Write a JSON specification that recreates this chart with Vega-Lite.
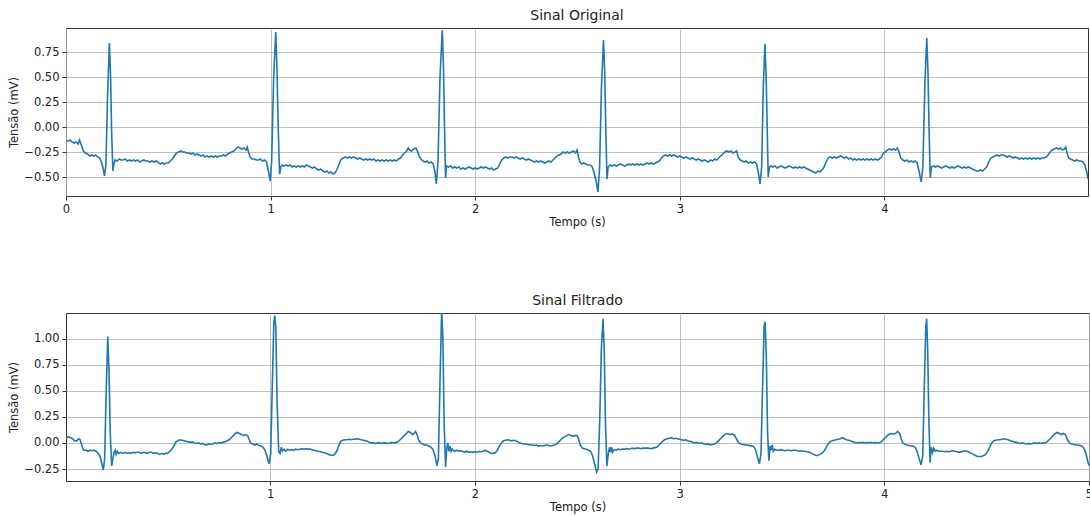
{
  "$schema": "https://vega.github.io/schema/vega-lite/v6.json",
  "background": "white",
  "padding": {"left": 8, "top": 8, "right": 2, "bottom": 0},
  "config": {
    "font": "DejaVu Sans",
    "view": {"stroke": "#333333", "strokeWidth": 1},
    "concat": {"spacing": 64},
    "axis": {
      "grid": true,
      "gridColor": "#b0b0b0",
      "gridWidth": 0.8,
      "domain": false,
      "tickColor": "#333333",
      "tickSize": 4,
      "labelFontSize": 11.5,
      "labelColor": "#222222",
      "labelPadding": 3,
      "titleFontSize": 11.5,
      "titleFontWeight": "normal",
      "titleColor": "#222222",
      "titlePadding": 2
    },
    "title": {"fontSize": 14, "fontWeight": "normal", "color": "#222222", "offset": 5}
  },
  "datasets": {
    "orig": [
      {"t":0.000,"v":-0.14},{"t":0.010,"v":-0.14},{"t":0.020,"v":-0.13},{"t":0.030,"v":-0.15},{"t":0.040,"v":-0.16},{"t":0.050,"v":-0.15},{"t":0.060,"v":-0.17},{"t":0.066,"v":-0.13},{"t":0.075,"v":-0.18},{"t":0.085,"v":-0.24},{"t":0.095,"v":-0.26},{"t":0.105,"v":-0.27},{"t":0.115,"v":-0.29},{"t":0.125,"v":-0.28},{"t":0.135,"v":-0.29},{"t":0.145,"v":-0.28},{"t":0.155,"v":-0.30},{"t":0.165,"v":-0.31},{"t":0.175,"v":-0.36},{"t":0.182,"v":-0.42},{"t":0.188,"v":-0.49},{"t":0.195,"v":-0.38},{"t":0.203,"v":0.30},{"t":0.212,"v":0.84},{"t":0.218,"v":0.50},{"t":0.223,"v":-0.05},{"t":0.229,"v":-0.44},{"t":0.234,"v":-0.37},{"t":0.240,"v":-0.33},{"t":0.250,"v":-0.34},{"t":0.260,"v":-0.32},{"t":0.270,"v":-0.33},{"t":0.280,"v":-0.33},{"t":0.290,"v":-0.32},{"t":0.300,"v":-0.34},{"t":0.310,"v":-0.33},{"t":0.320,"v":-0.34},{"t":0.330,"v":-0.33},{"t":0.340,"v":-0.34},{"t":0.350,"v":-0.33},{"t":0.360,"v":-0.35},{"t":0.370,"v":-0.34},{"t":0.380,"v":-0.33},{"t":0.390,"v":-0.34},{"t":0.400,"v":-0.34},{"t":0.410,"v":-0.35},{"t":0.420,"v":-0.34},{"t":0.430,"v":-0.35},{"t":0.440,"v":-0.34},{"t":0.450,"v":-0.35},{"t":0.460,"v":-0.37},{"t":0.470,"v":-0.36},{"t":0.480,"v":-0.37},{"t":0.490,"v":-0.36},{"t":0.500,"v":-0.36},{"t":0.510,"v":-0.34},{"t":0.520,"v":-0.32},{"t":0.530,"v":-0.29},{"t":0.540,"v":-0.26},{"t":0.550,"v":-0.25},{"t":0.560,"v":-0.24},{"t":0.570,"v":-0.25},{"t":0.580,"v":-0.25},{"t":0.590,"v":-0.26},{"t":0.600,"v":-0.26},{"t":0.610,"v":-0.27},{"t":0.620,"v":-0.26},{"t":0.630,"v":-0.28},{"t":0.640,"v":-0.27},{"t":0.650,"v":-0.28},{"t":0.660,"v":-0.29},{"t":0.670,"v":-0.28},{"t":0.680,"v":-0.30},{"t":0.690,"v":-0.29},{"t":0.700,"v":-0.30},{"t":0.710,"v":-0.29},{"t":0.720,"v":-0.30},{"t":0.730,"v":-0.29},{"t":0.740,"v":-0.30},{"t":0.750,"v":-0.29},{"t":0.760,"v":-0.29},{"t":0.770,"v":-0.28},{"t":0.780,"v":-0.29},{"t":0.790,"v":-0.27},{"t":0.800,"v":-0.26},{"t":0.810,"v":-0.25},{"t":0.820,"v":-0.24},{"t":0.830,"v":-0.22},{"t":0.840,"v":-0.20},{"t":0.850,"v":-0.21},{"t":0.860,"v":-0.22},{"t":0.870,"v":-0.21},{"t":0.880,"v":-0.23},{"t":0.886,"v":-0.20},{"t":0.893,"v":-0.26},{"t":0.900,"v":-0.30},{"t":0.910,"v":-0.32},{"t":0.920,"v":-0.32},{"t":0.930,"v":-0.33},{"t":0.940,"v":-0.33},{"t":0.950,"v":-0.32},{"t":0.960,"v":-0.34},{"t":0.970,"v":-0.33},{"t":0.980,"v":-0.35},{"t":0.990,"v":-0.45},{"t":0.998,"v":-0.54},{"t":1.005,"v":-0.35},{"t":1.015,"v":0.50},{"t":1.025,"v":0.95},{"t":1.031,"v":0.60},{"t":1.037,"v":0.00},{"t":1.044,"v":-0.47},{"t":1.050,"v":-0.40},{"t":1.057,"v":-0.38},{"t":1.065,"v":-0.39},{"t":1.075,"v":-0.38},{"t":1.085,"v":-0.39},{"t":1.095,"v":-0.38},{"t":1.105,"v":-0.40},{"t":1.115,"v":-0.39},{"t":1.125,"v":-0.40},{"t":1.135,"v":-0.39},{"t":1.145,"v":-0.40},{"t":1.155,"v":-0.39},{"t":1.165,"v":-0.40},{"t":1.175,"v":-0.38},{"t":1.185,"v":-0.39},{"t":1.195,"v":-0.40},{"t":1.205,"v":-0.41},{"t":1.215,"v":-0.40},{"t":1.225,"v":-0.42},{"t":1.235,"v":-0.43},{"t":1.245,"v":-0.42},{"t":1.255,"v":-0.44},{"t":1.265,"v":-0.45},{"t":1.275,"v":-0.44},{"t":1.285,"v":-0.46},{"t":1.295,"v":-0.45},{"t":1.305,"v":-0.47},{"t":1.315,"v":-0.46},{"t":1.325,"v":-0.42},{"t":1.335,"v":-0.37},{"t":1.345,"v":-0.32},{"t":1.355,"v":-0.31},{"t":1.365,"v":-0.30},{"t":1.375,"v":-0.31},{"t":1.385,"v":-0.30},{"t":1.395,"v":-0.31},{"t":1.405,"v":-0.30},{"t":1.415,"v":-0.31},{"t":1.425,"v":-0.32},{"t":1.435,"v":-0.31},{"t":1.445,"v":-0.32},{"t":1.455,"v":-0.33},{"t":1.465,"v":-0.32},{"t":1.475,"v":-0.33},{"t":1.485,"v":-0.32},{"t":1.495,"v":-0.33},{"t":1.505,"v":-0.32},{"t":1.515,"v":-0.34},{"t":1.525,"v":-0.33},{"t":1.535,"v":-0.34},{"t":1.545,"v":-0.33},{"t":1.555,"v":-0.34},{"t":1.565,"v":-0.33},{"t":1.575,"v":-0.34},{"t":1.585,"v":-0.33},{"t":1.595,"v":-0.34},{"t":1.605,"v":-0.33},{"t":1.615,"v":-0.34},{"t":1.625,"v":-0.32},{"t":1.635,"v":-0.31},{"t":1.645,"v":-0.28},{"t":1.655,"v":-0.26},{"t":1.665,"v":-0.24},{"t":1.673,"v":-0.21},{"t":1.680,"v":-0.23},{"t":1.690,"v":-0.24},{"t":1.700,"v":-0.22},{"t":1.710,"v":-0.21},{"t":1.718,"v":-0.24},{"t":1.725,"v":-0.29},{"t":1.735,"v":-0.32},{"t":1.745,"v":-0.34},{"t":1.755,"v":-0.35},{"t":1.765,"v":-0.34},{"t":1.775,"v":-0.36},{"t":1.785,"v":-0.35},{"t":1.795,"v":-0.37},{"t":1.803,"v":-0.45},{"t":1.810,"v":-0.57},{"t":1.818,"v":-0.35},{"t":1.828,"v":0.50},{"t":1.839,"v":0.97},{"t":1.845,"v":0.60},{"t":1.850,"v":0.00},{"t":1.855,"v":-0.51},{"t":1.860,"v":-0.39},{"t":1.870,"v":-0.40},{"t":1.880,"v":-0.39},{"t":1.890,"v":-0.41},{"t":1.900,"v":-0.40},{"t":1.910,"v":-0.41},{"t":1.920,"v":-0.40},{"t":1.930,"v":-0.42},{"t":1.940,"v":-0.41},{"t":1.950,"v":-0.42},{"t":1.960,"v":-0.41},{"t":1.970,"v":-0.40},{"t":1.980,"v":-0.41},{"t":1.990,"v":-0.42},{"t":2.000,"v":-0.41},{"t":2.010,"v":-0.42},{"t":2.020,"v":-0.41},{"t":2.030,"v":-0.40},{"t":2.040,"v":-0.41},{"t":2.050,"v":-0.40},{"t":2.060,"v":-0.41},{"t":2.070,"v":-0.42},{"t":2.080,"v":-0.41},{"t":2.090,"v":-0.43},{"t":2.100,"v":-0.42},{"t":2.110,"v":-0.41},{"t":2.120,"v":-0.37},{"t":2.130,"v":-0.33},{"t":2.140,"v":-0.31},{"t":2.150,"v":-0.30},{"t":2.160,"v":-0.31},{"t":2.170,"v":-0.30},{"t":2.180,"v":-0.30},{"t":2.190,"v":-0.31},{"t":2.200,"v":-0.30},{"t":2.210,"v":-0.31},{"t":2.220,"v":-0.32},{"t":2.230,"v":-0.31},{"t":2.240,"v":-0.32},{"t":2.250,"v":-0.33},{"t":2.260,"v":-0.32},{"t":2.270,"v":-0.33},{"t":2.280,"v":-0.34},{"t":2.290,"v":-0.35},{"t":2.300,"v":-0.34},{"t":2.310,"v":-0.35},{"t":2.320,"v":-0.34},{"t":2.330,"v":-0.35},{"t":2.340,"v":-0.36},{"t":2.350,"v":-0.35},{"t":2.360,"v":-0.34},{"t":2.370,"v":-0.35},{"t":2.380,"v":-0.33},{"t":2.390,"v":-0.31},{"t":2.400,"v":-0.29},{"t":2.410,"v":-0.28},{"t":2.420,"v":-0.27},{"t":2.430,"v":-0.25},{"t":2.440,"v":-0.26},{"t":2.450,"v":-0.25},{"t":2.460,"v":-0.26},{"t":2.470,"v":-0.25},{"t":2.480,"v":-0.24},{"t":2.490,"v":-0.26},{"t":2.498,"v":-0.23},{"t":2.505,"v":-0.30},{"t":2.512,"v":-0.35},{"t":2.520,"v":-0.37},{"t":2.530,"v":-0.36},{"t":2.540,"v":-0.37},{"t":2.550,"v":-0.38},{"t":2.560,"v":-0.38},{"t":2.570,"v":-0.39},{"t":2.580,"v":-0.45},{"t":2.592,"v":-0.55},{"t":2.600,"v":-0.65},{"t":2.608,"v":-0.40},{"t":2.617,"v":0.40},{"t":2.627,"v":0.87},{"t":2.633,"v":0.55},{"t":2.638,"v":0.00},{"t":2.644,"v":-0.52},{"t":2.650,"v":-0.40},{"t":2.660,"v":-0.38},{"t":2.670,"v":-0.39},{"t":2.680,"v":-0.38},{"t":2.690,"v":-0.39},{"t":2.700,"v":-0.38},{"t":2.710,"v":-0.37},{"t":2.720,"v":-0.38},{"t":2.730,"v":-0.39},{"t":2.740,"v":-0.38},{"t":2.750,"v":-0.37},{"t":2.760,"v":-0.38},{"t":2.770,"v":-0.37},{"t":2.780,"v":-0.38},{"t":2.790,"v":-0.37},{"t":2.800,"v":-0.38},{"t":2.810,"v":-0.37},{"t":2.820,"v":-0.38},{"t":2.830,"v":-0.37},{"t":2.840,"v":-0.36},{"t":2.850,"v":-0.37},{"t":2.860,"v":-0.36},{"t":2.870,"v":-0.37},{"t":2.880,"v":-0.36},{"t":2.890,"v":-0.35},{"t":2.900,"v":-0.34},{"t":2.910,"v":-0.31},{"t":2.920,"v":-0.29},{"t":2.930,"v":-0.28},{"t":2.940,"v":-0.29},{"t":2.950,"v":-0.28},{"t":2.960,"v":-0.29},{"t":2.970,"v":-0.28},{"t":2.980,"v":-0.29},{"t":2.990,"v":-0.30},{"t":3.000,"v":-0.29},{"t":3.010,"v":-0.30},{"t":3.020,"v":-0.31},{"t":3.030,"v":-0.30},{"t":3.040,"v":-0.31},{"t":3.050,"v":-0.32},{"t":3.060,"v":-0.31},{"t":3.070,"v":-0.32},{"t":3.080,"v":-0.33},{"t":3.090,"v":-0.32},{"t":3.100,"v":-0.33},{"t":3.110,"v":-0.34},{"t":3.120,"v":-0.33},{"t":3.130,"v":-0.34},{"t":3.140,"v":-0.35},{"t":3.150,"v":-0.33},{"t":3.160,"v":-0.34},{"t":3.170,"v":-0.32},{"t":3.180,"v":-0.33},{"t":3.190,"v":-0.31},{"t":3.200,"v":-0.29},{"t":3.210,"v":-0.27},{"t":3.220,"v":-0.25},{"t":3.230,"v":-0.24},{"t":3.240,"v":-0.25},{"t":3.250,"v":-0.24},{"t":3.260,"v":-0.26},{"t":3.270,"v":-0.25},{"t":3.278,"v":-0.24},{"t":3.285,"v":-0.30},{"t":3.295,"v":-0.33},{"t":3.305,"v":-0.34},{"t":3.315,"v":-0.35},{"t":3.325,"v":-0.34},{"t":3.335,"v":-0.36},{"t":3.345,"v":-0.35},{"t":3.355,"v":-0.36},{"t":3.365,"v":-0.35},{"t":3.375,"v":-0.37},{"t":3.385,"v":-0.47},{"t":3.392,"v":-0.57},{"t":3.400,"v":-0.40},{"t":3.408,"v":0.40},{"t":3.416,"v":0.83},{"t":3.422,"v":0.50},{"t":3.427,"v":0.00},{"t":3.432,"v":-0.50},{"t":3.438,"v":-0.40},{"t":3.445,"v":-0.39},{"t":3.455,"v":-0.40},{"t":3.465,"v":-0.39},{"t":3.475,"v":-0.41},{"t":3.485,"v":-0.40},{"t":3.495,"v":-0.39},{"t":3.505,"v":-0.40},{"t":3.515,"v":-0.41},{"t":3.525,"v":-0.40},{"t":3.535,"v":-0.39},{"t":3.545,"v":-0.40},{"t":3.555,"v":-0.41},{"t":3.565,"v":-0.40},{"t":3.575,"v":-0.41},{"t":3.585,"v":-0.40},{"t":3.595,"v":-0.41},{"t":3.605,"v":-0.40},{"t":3.615,"v":-0.41},{"t":3.625,"v":-0.42},{"t":3.635,"v":-0.43},{"t":3.645,"v":-0.44},{"t":3.655,"v":-0.45},{"t":3.665,"v":-0.46},{"t":3.675,"v":-0.44},{"t":3.685,"v":-0.45},{"t":3.695,"v":-0.43},{"t":3.705,"v":-0.40},{"t":3.715,"v":-0.35},{"t":3.725,"v":-0.31},{"t":3.735,"v":-0.30},{"t":3.745,"v":-0.31},{"t":3.755,"v":-0.30},{"t":3.765,"v":-0.31},{"t":3.775,"v":-0.30},{"t":3.785,"v":-0.29},{"t":3.795,"v":-0.30},{"t":3.805,"v":-0.31},{"t":3.815,"v":-0.30},{"t":3.825,"v":-0.32},{"t":3.835,"v":-0.31},{"t":3.845,"v":-0.33},{"t":3.855,"v":-0.32},{"t":3.865,"v":-0.33},{"t":3.875,"v":-0.32},{"t":3.885,"v":-0.33},{"t":3.895,"v":-0.32},{"t":3.905,"v":-0.33},{"t":3.915,"v":-0.32},{"t":3.925,"v":-0.33},{"t":3.935,"v":-0.32},{"t":3.945,"v":-0.33},{"t":3.955,"v":-0.32},{"t":3.965,"v":-0.33},{"t":3.975,"v":-0.32},{"t":3.985,"v":-0.30},{"t":3.995,"v":-0.26},{"t":4.005,"v":-0.25},{"t":4.015,"v":-0.23},{"t":4.025,"v":-0.22},{"t":4.035,"v":-0.23},{"t":4.045,"v":-0.22},{"t":4.055,"v":-0.23},{"t":4.063,"v":-0.21},{"t":4.070,"v":-0.24},{"t":4.080,"v":-0.31},{"t":4.090,"v":-0.33},{"t":4.100,"v":-0.34},{"t":4.110,"v":-0.33},{"t":4.120,"v":-0.35},{"t":4.130,"v":-0.34},{"t":4.140,"v":-0.35},{"t":4.150,"v":-0.34},{"t":4.160,"v":-0.36},{"t":4.170,"v":-0.45},{"t":4.180,"v":-0.55},{"t":4.188,"v":-0.40},{"t":4.198,"v":0.45},{"t":4.207,"v":0.89},{"t":4.213,"v":0.55},{"t":4.218,"v":0.00},{"t":4.224,"v":-0.51},{"t":4.230,"v":-0.40},{"t":4.240,"v":-0.39},{"t":4.250,"v":-0.40},{"t":4.260,"v":-0.39},{"t":4.270,"v":-0.40},{"t":4.280,"v":-0.41},{"t":4.290,"v":-0.40},{"t":4.300,"v":-0.39},{"t":4.310,"v":-0.40},{"t":4.320,"v":-0.41},{"t":4.330,"v":-0.40},{"t":4.340,"v":-0.41},{"t":4.350,"v":-0.40},{"t":4.360,"v":-0.39},{"t":4.370,"v":-0.40},{"t":4.380,"v":-0.41},{"t":4.390,"v":-0.40},{"t":4.400,"v":-0.41},{"t":4.410,"v":-0.40},{"t":4.420,"v":-0.41},{"t":4.430,"v":-0.42},{"t":4.440,"v":-0.43},{"t":4.450,"v":-0.44},{"t":4.460,"v":-0.44},{"t":4.470,"v":-0.43},{"t":4.480,"v":-0.44},{"t":4.490,"v":-0.42},{"t":4.500,"v":-0.40},{"t":4.510,"v":-0.35},{"t":4.520,"v":-0.31},{"t":4.530,"v":-0.30},{"t":4.540,"v":-0.29},{"t":4.550,"v":-0.28},{"t":4.560,"v":-0.29},{"t":4.570,"v":-0.28},{"t":4.580,"v":-0.28},{"t":4.590,"v":-0.29},{"t":4.600,"v":-0.30},{"t":4.610,"v":-0.29},{"t":4.620,"v":-0.30},{"t":4.630,"v":-0.31},{"t":4.640,"v":-0.30},{"t":4.650,"v":-0.31},{"t":4.660,"v":-0.32},{"t":4.670,"v":-0.31},{"t":4.680,"v":-0.32},{"t":4.690,"v":-0.31},{"t":4.700,"v":-0.32},{"t":4.710,"v":-0.31},{"t":4.720,"v":-0.32},{"t":4.730,"v":-0.31},{"t":4.740,"v":-0.32},{"t":4.750,"v":-0.31},{"t":4.760,"v":-0.32},{"t":4.770,"v":-0.31},{"t":4.780,"v":-0.31},{"t":4.790,"v":-0.30},{"t":4.800,"v":-0.28},{"t":4.810,"v":-0.25},{"t":4.820,"v":-0.23},{"t":4.830,"v":-0.22},{"t":4.840,"v":-0.21},{"t":4.850,"v":-0.22},{"t":4.860,"v":-0.21},{"t":4.870,"v":-0.23},{"t":4.880,"v":-0.22},{"t":4.886,"v":-0.20},{"t":4.893,"v":-0.26},{"t":4.900,"v":-0.31},{"t":4.910,"v":-0.32},{"t":4.920,"v":-0.33},{"t":4.930,"v":-0.34},{"t":4.940,"v":-0.33},{"t":4.950,"v":-0.34},{"t":4.960,"v":-0.34},{"t":4.970,"v":-0.35},{"t":4.980,"v":-0.38},{"t":4.990,"v":-0.46},{"t":4.995,"v":-0.52}
    ],
    "filt": [
      {"t":0.003,"v":0.04},{"t":0.015,"v":0.06},{"t":0.025,"v":0.05},{"t":0.035,"v":0.04},{"t":0.045,"v":0.02},{"t":0.055,"v":0.02},{"t":0.065,"v":0.04},{"t":0.072,"v":0.03},{"t":0.080,"v":-0.02},{"t":0.088,"v":-0.07},{"t":0.100,"v":-0.07},{"t":0.110,"v":-0.08},{"t":0.120,"v":-0.07},{"t":0.130,"v":-0.075},{"t":0.140,"v":-0.07},{"t":0.150,"v":-0.08},{"t":0.160,"v":-0.10},{"t":0.170,"v":-0.13},{"t":0.178,"v":-0.20},{"t":0.185,"v":-0.26},{"t":0.192,"v":-0.15},{"t":0.198,"v":0.40},{"t":0.207,"v":1.02},{"t":0.213,"v":0.70},{"t":0.219,"v":0.10},{"t":0.226,"v":-0.22},{"t":0.232,"v":-0.15},{"t":0.238,"v":-0.09},{"t":0.243,"v":-0.07},{"t":0.248,"v":-0.11},{"t":0.254,"v":-0.08},{"t":0.260,"v":-0.10},{"t":0.270,"v":-0.09},{"t":0.280,"v":-0.10},{"t":0.290,"v":-0.09},{"t":0.300,"v":-0.10},{"t":0.310,"v":-0.095},{"t":0.320,"v":-0.10},{"t":0.330,"v":-0.09},{"t":0.340,"v":-0.095},{"t":0.350,"v":-0.09},{"t":0.360,"v":-0.09},{"t":0.370,"v":-0.10},{"t":0.380,"v":-0.09},{"t":0.390,"v":-0.095},{"t":0.400,"v":-0.10},{"t":0.410,"v":-0.09},{"t":0.420,"v":-0.09},{"t":0.430,"v":-0.10},{"t":0.440,"v":-0.095},{"t":0.450,"v":-0.10},{"t":0.460,"v":-0.11},{"t":0.470,"v":-0.10},{"t":0.480,"v":-0.11},{"t":0.490,"v":-0.10},{"t":0.500,"v":-0.10},{"t":0.510,"v":-0.08},{"t":0.520,"v":-0.06},{"t":0.530,"v":-0.03},{"t":0.540,"v":0.01},{"t":0.550,"v":0.02},{"t":0.560,"v":0.03},{"t":0.570,"v":0.025},{"t":0.580,"v":0.02},{"t":0.590,"v":0.015},{"t":0.600,"v":0.01},{"t":0.610,"v":0.005},{"t":0.620,"v":0.01},{"t":0.630,"v":0.0},{"t":0.640,"v":-0.005},{"t":0.650,"v":0.0},{"t":0.660,"v":-0.01},{"t":0.670,"v":-0.005},{"t":0.680,"v":-0.015},{"t":0.690,"v":-0.02},{"t":0.700,"v":-0.01},{"t":0.710,"v":-0.015},{"t":0.720,"v":-0.01},{"t":0.730,"v":0.0},{"t":0.740,"v":-0.005},{"t":0.750,"v":0.0},{"t":0.760,"v":0.0},{"t":0.770,"v":0.005},{"t":0.780,"v":0.01},{"t":0.790,"v":0.02},{"t":0.800,"v":0.03},{"t":0.810,"v":0.05},{"t":0.820,"v":0.07},{"t":0.830,"v":0.09},{"t":0.840,"v":0.10},{"t":0.850,"v":0.09},{"t":0.860,"v":0.08},{"t":0.870,"v":0.07},{"t":0.880,"v":0.08},{"t":0.890,"v":0.07},{"t":0.898,"v":0.03},{"t":0.905,"v":0.0},{"t":0.915,"v":-0.01},{"t":0.925,"v":-0.02},{"t":0.935,"v":-0.01},{"t":0.945,"v":-0.025},{"t":0.955,"v":-0.03},{"t":0.965,"v":-0.04},{"t":0.975,"v":-0.07},{"t":0.985,"v":-0.13},{"t":0.995,"v":-0.20},{"t":1.003,"v":-0.10},{"t":1.010,"v":0.50},{"t":1.018,"v":1.15},{"t":1.023,"v":1.22},{"t":1.028,"v":1.10},{"t":1.034,"v":0.40},{"t":1.042,"v":-0.08},{"t":1.048,"v":-0.10},{"t":1.055,"v":-0.04},{"t":1.060,"v":-0.08},{"t":1.068,"v":-0.06},{"t":1.076,"v":-0.08},{"t":1.085,"v":-0.06},{"t":1.095,"v":-0.07},{"t":1.105,"v":-0.065},{"t":1.115,"v":-0.07},{"t":1.125,"v":-0.06},{"t":1.135,"v":-0.065},{"t":1.145,"v":-0.06},{"t":1.155,"v":-0.055},{"t":1.165,"v":-0.06},{"t":1.175,"v":-0.055},{"t":1.185,"v":-0.06},{"t":1.195,"v":-0.06},{"t":1.205,"v":-0.065},{"t":1.215,"v":-0.07},{"t":1.225,"v":-0.075},{"t":1.235,"v":-0.08},{"t":1.245,"v":-0.085},{"t":1.255,"v":-0.09},{"t":1.265,"v":-0.095},{"t":1.275,"v":-0.10},{"t":1.285,"v":-0.11},{"t":1.295,"v":-0.115},{"t":1.305,"v":-0.12},{"t":1.315,"v":-0.11},{"t":1.325,"v":-0.08},{"t":1.335,"v":-0.03},{"t":1.345,"v":0.015},{"t":1.355,"v":0.025},{"t":1.365,"v":0.03},{"t":1.375,"v":0.03},{"t":1.385,"v":0.035},{"t":1.395,"v":0.03},{"t":1.405,"v":0.035},{"t":1.415,"v":0.035},{"t":1.425,"v":0.04},{"t":1.435,"v":0.035},{"t":1.445,"v":0.03},{"t":1.455,"v":0.025},{"t":1.465,"v":0.02},{"t":1.475,"v":0.015},{"t":1.485,"v":0.005},{"t":1.495,"v":0.0},{"t":1.505,"v":0.0},{"t":1.515,"v":-0.005},{"t":1.525,"v":0.0},{"t":1.535,"v":0.0},{"t":1.545,"v":-0.005},{"t":1.555,"v":0.0},{"t":1.565,"v":0.0},{"t":1.575,"v":-0.005},{"t":1.585,"v":0.0},{"t":1.595,"v":0.005},{"t":1.605,"v":0.0},{"t":1.615,"v":0.005},{"t":1.625,"v":0.01},{"t":1.635,"v":0.03},{"t":1.645,"v":0.05},{"t":1.655,"v":0.07},{"t":1.665,"v":0.09},{"t":1.675,"v":0.11},{"t":1.685,"v":0.10},{"t":1.695,"v":0.08},{"t":1.703,"v":0.09},{"t":1.710,"v":0.11},{"t":1.718,"v":0.08},{"t":1.725,"v":0.03},{"t":1.735,"v":0.0},{"t":1.745,"v":-0.01},{"t":1.755,"v":-0.02},{"t":1.765,"v":-0.02},{"t":1.775,"v":-0.03},{"t":1.785,"v":-0.04},{"t":1.795,"v":-0.06},{"t":1.805,"v":-0.12},{"t":1.815,"v":-0.22},{"t":1.822,"v":-0.15},{"t":1.830,"v":0.60},{"t":1.838,"v":1.27},{"t":1.844,"v":1.00},{"t":1.850,"v":0.20},{"t":1.857,"v":-0.23},{"t":1.863,"v":-0.05},{"t":1.868,"v":0.0},{"t":1.873,"v":-0.08},{"t":1.878,"v":-0.03},{"t":1.884,"v":-0.08},{"t":1.890,"v":-0.06},{"t":1.900,"v":-0.08},{"t":1.910,"v":-0.07},{"t":1.920,"v":-0.08},{"t":1.930,"v":-0.075},{"t":1.940,"v":-0.08},{"t":1.950,"v":-0.09},{"t":1.960,"v":-0.08},{"t":1.970,"v":-0.09},{"t":1.980,"v":-0.085},{"t":1.990,"v":-0.09},{"t":2.000,"v":-0.085},{"t":2.010,"v":-0.09},{"t":2.020,"v":-0.08},{"t":2.030,"v":-0.085},{"t":2.040,"v":-0.08},{"t":2.050,"v":-0.07},{"t":2.060,"v":-0.08},{"t":2.070,"v":-0.09},{"t":2.080,"v":-0.10},{"t":2.090,"v":-0.10},{"t":2.100,"v":-0.095},{"t":2.110,"v":-0.07},{"t":2.120,"v":-0.03},{"t":2.130,"v":0.0},{"t":2.140,"v":0.02},{"t":2.150,"v":0.025},{"t":2.160,"v":0.03},{"t":2.170,"v":0.025},{"t":2.180,"v":0.02},{"t":2.190,"v":0.025},{"t":2.200,"v":0.02},{"t":2.210,"v":0.01},{"t":2.220,"v":0.0},{"t":2.230,"v":-0.005},{"t":2.240,"v":-0.01},{"t":2.250,"v":-0.01},{"t":2.260,"v":-0.015},{"t":2.270,"v":-0.02},{"t":2.280,"v":-0.02},{"t":2.290,"v":-0.025},{"t":2.300,"v":-0.02},{"t":2.310,"v":-0.03},{"t":2.320,"v":-0.025},{"t":2.330,"v":-0.03},{"t":2.340,"v":-0.025},{"t":2.350,"v":-0.02},{"t":2.360,"v":-0.025},{"t":2.370,"v":-0.03},{"t":2.380,"v":-0.025},{"t":2.390,"v":-0.02},{"t":2.400,"v":-0.01},{"t":2.410,"v":0.01},{"t":2.420,"v":0.03},{"t":2.430,"v":0.05},{"t":2.440,"v":0.06},{"t":2.450,"v":0.07},{"t":2.460,"v":0.08},{"t":2.470,"v":0.07},{"t":2.480,"v":0.065},{"t":2.490,"v":0.07},{"t":2.500,"v":0.07},{"t":2.508,"v":0.03},{"t":2.515,"v":-0.02},{"t":2.525,"v":-0.05},{"t":2.535,"v":-0.055},{"t":2.545,"v":-0.06},{"t":2.555,"v":-0.07},{"t":2.565,"v":-0.08},{"t":2.575,"v":-0.12},{"t":2.585,"v":-0.20},{"t":2.595,"v":-0.28},{"t":2.602,"v":-0.25},{"t":2.610,"v":0.20},{"t":2.618,"v":0.90},{"t":2.626,"v":1.19},{"t":2.632,"v":0.90},{"t":2.638,"v":0.20},{"t":2.645,"v":-0.22},{"t":2.652,"v":-0.10},{"t":2.658,"v":-0.04},{"t":2.663,"v":-0.09},{"t":2.668,"v":-0.04},{"t":2.673,"v":-0.09},{"t":2.680,"v":-0.065},{"t":2.690,"v":-0.07},{"t":2.700,"v":-0.06},{"t":2.710,"v":-0.065},{"t":2.720,"v":-0.06},{"t":2.730,"v":-0.06},{"t":2.740,"v":-0.055},{"t":2.750,"v":-0.06},{"t":2.760,"v":-0.055},{"t":2.770,"v":-0.05},{"t":2.780,"v":-0.055},{"t":2.790,"v":-0.05},{"t":2.800,"v":-0.05},{"t":2.810,"v":-0.055},{"t":2.820,"v":-0.05},{"t":2.830,"v":-0.05},{"t":2.840,"v":-0.05},{"t":2.850,"v":-0.05},{"t":2.860,"v":-0.055},{"t":2.870,"v":-0.05},{"t":2.880,"v":-0.045},{"t":2.890,"v":-0.04},{"t":2.900,"v":-0.02},{"t":2.910,"v":0.0},{"t":2.920,"v":0.02},{"t":2.930,"v":0.035},{"t":2.940,"v":0.04},{"t":2.950,"v":0.045},{"t":2.960,"v":0.05},{"t":2.970,"v":0.04},{"t":2.980,"v":0.045},{"t":2.990,"v":0.04},{"t":3.000,"v":0.035},{"t":3.010,"v":0.03},{"t":3.020,"v":0.025},{"t":3.030,"v":0.03},{"t":3.040,"v":0.02},{"t":3.050,"v":0.015},{"t":3.060,"v":0.01},{"t":3.070,"v":0.0},{"t":3.080,"v":0.005},{"t":3.090,"v":0.0},{"t":3.100,"v":-0.005},{"t":3.110,"v":0.0},{"t":3.120,"v":-0.01},{"t":3.130,"v":-0.015},{"t":3.140,"v":-0.01},{"t":3.150,"v":-0.02},{"t":3.160,"v":-0.015},{"t":3.170,"v":-0.01},{"t":3.180,"v":0.0},{"t":3.190,"v":0.02},{"t":3.200,"v":0.04},{"t":3.210,"v":0.06},{"t":3.220,"v":0.08},{"t":3.230,"v":0.09},{"t":3.240,"v":0.085},{"t":3.250,"v":0.08},{"t":3.260,"v":0.085},{"t":3.270,"v":0.07},{"t":3.280,"v":0.03},{"t":3.290,"v":0.0},{"t":3.300,"v":-0.01},{"t":3.310,"v":-0.015},{"t":3.320,"v":-0.02},{"t":3.330,"v":-0.02},{"t":3.340,"v":-0.025},{"t":3.350,"v":-0.03},{"t":3.360,"v":-0.03},{"t":3.370,"v":-0.06},{"t":3.380,"v":-0.13},{"t":3.390,"v":-0.20},{"t":3.398,"v":-0.10},{"t":3.405,"v":0.50},{"t":3.413,"v":1.12},{"t":3.418,"v":1.16},{"t":3.424,"v":0.80},{"t":3.430,"v":0.10},{"t":3.436,"v":-0.17},{"t":3.442,"v":-0.03},{"t":3.447,"v":-0.07},{"t":3.452,"v":-0.02},{"t":3.458,"v":-0.08},{"t":3.465,"v":-0.06},{"t":3.475,"v":-0.07},{"t":3.485,"v":-0.07},{"t":3.495,"v":-0.065},{"t":3.505,"v":-0.07},{"t":3.515,"v":-0.075},{"t":3.525,"v":-0.07},{"t":3.535,"v":-0.07},{"t":3.545,"v":-0.075},{"t":3.555,"v":-0.07},{"t":3.565,"v":-0.07},{"t":3.575,"v":-0.075},{"t":3.585,"v":-0.08},{"t":3.595,"v":-0.075},{"t":3.605,"v":-0.08},{"t":3.615,"v":-0.08},{"t":3.625,"v":-0.085},{"t":3.635,"v":-0.09},{"t":3.645,"v":-0.10},{"t":3.655,"v":-0.11},{"t":3.665,"v":-0.12},{"t":3.675,"v":-0.12},{"t":3.685,"v":-0.11},{"t":3.695,"v":-0.10},{"t":3.705,"v":-0.08},{"t":3.715,"v":-0.05},{"t":3.725,"v":-0.01},{"t":3.735,"v":0.01},{"t":3.745,"v":0.02},{"t":3.755,"v":0.025},{"t":3.765,"v":0.03},{"t":3.775,"v":0.035},{"t":3.785,"v":0.04},{"t":3.795,"v":0.05},{"t":3.805,"v":0.04},{"t":3.815,"v":0.03},{"t":3.825,"v":0.025},{"t":3.835,"v":0.02},{"t":3.845,"v":0.01},{"t":3.855,"v":0.005},{"t":3.865,"v":0.0},{"t":3.875,"v":0.005},{"t":3.885,"v":0.0},{"t":3.895,"v":0.005},{"t":3.905,"v":0.0},{"t":3.915,"v":0.005},{"t":3.925,"v":0.0},{"t":3.935,"v":0.005},{"t":3.945,"v":0.0},{"t":3.955,"v":0.005},{"t":3.965,"v":0.0},{"t":3.975,"v":0.0},{"t":3.985,"v":0.01},{"t":3.995,"v":0.03},{"t":4.005,"v":0.05},{"t":4.015,"v":0.07},{"t":4.025,"v":0.085},{"t":4.035,"v":0.09},{"t":4.045,"v":0.085},{"t":4.055,"v":0.09},{"t":4.065,"v":0.11},{"t":4.075,"v":0.09},{"t":4.083,"v":0.04},{"t":4.090,"v":0.0},{"t":4.100,"v":-0.01},{"t":4.110,"v":-0.02},{"t":4.120,"v":-0.025},{"t":4.130,"v":-0.03},{"t":4.140,"v":-0.03},{"t":4.150,"v":-0.04},{"t":4.160,"v":-0.08},{"t":4.170,"v":-0.15},{"t":4.180,"v":-0.21},{"t":4.188,"v":-0.12},{"t":4.195,"v":0.50},{"t":4.203,"v":1.12},{"t":4.207,"v":1.19},{"t":4.212,"v":0.90},{"t":4.218,"v":0.20},{"t":4.224,"v":-0.19},{"t":4.230,"v":-0.04},{"t":4.236,"v":-0.09},{"t":4.242,"v":-0.05},{"t":4.248,"v":-0.08},{"t":4.255,"v":-0.07},{"t":4.265,"v":-0.08},{"t":4.275,"v":-0.08},{"t":4.285,"v":-0.08},{"t":4.295,"v":-0.085},{"t":4.305,"v":-0.08},{"t":4.315,"v":-0.085},{"t":4.325,"v":-0.08},{"t":4.335,"v":-0.075},{"t":4.345,"v":-0.08},{"t":4.355,"v":-0.085},{"t":4.365,"v":-0.09},{"t":4.375,"v":-0.085},{"t":4.385,"v":-0.08},{"t":4.395,"v":-0.075},{"t":4.405,"v":-0.08},{"t":4.415,"v":-0.09},{"t":4.425,"v":-0.10},{"t":4.435,"v":-0.11},{"t":4.445,"v":-0.12},{"t":4.455,"v":-0.13},{"t":4.465,"v":-0.13},{"t":4.475,"v":-0.13},{"t":4.485,"v":-0.12},{"t":4.495,"v":-0.11},{"t":4.505,"v":-0.08},{"t":4.515,"v":-0.04},{"t":4.525,"v":0.0},{"t":4.535,"v":0.02},{"t":4.545,"v":0.025},{"t":4.555,"v":0.03},{"t":4.565,"v":0.03},{"t":4.575,"v":0.035},{"t":4.585,"v":0.04},{"t":4.595,"v":0.035},{"t":4.605,"v":0.03},{"t":4.615,"v":0.02},{"t":4.625,"v":0.015},{"t":4.635,"v":0.01},{"t":4.645,"v":0.005},{"t":4.655,"v":0.0},{"t":4.665,"v":-0.005},{"t":4.675,"v":0.0},{"t":4.685,"v":-0.005},{"t":4.695,"v":-0.01},{"t":4.705,"v":-0.005},{"t":4.715,"v":-0.01},{"t":4.725,"v":-0.005},{"t":4.735,"v":0.0},{"t":4.745,"v":-0.005},{"t":4.755,"v":0.0},{"t":4.765,"v":-0.005},{"t":4.775,"v":0.0},{"t":4.785,"v":0.0},{"t":4.795,"v":0.01},{"t":4.805,"v":0.03},{"t":4.815,"v":0.05},{"t":4.825,"v":0.07},{"t":4.835,"v":0.09},{"t":4.845,"v":0.10},{"t":4.855,"v":0.09},{"t":4.865,"v":0.08},{"t":4.875,"v":0.09},{"t":4.885,"v":0.08},{"t":4.895,"v":0.03},{"t":4.905,"v":0.0},{"t":4.915,"v":-0.01},{"t":4.925,"v":-0.015},{"t":4.935,"v":-0.02},{"t":4.945,"v":-0.02},{"t":4.955,"v":-0.025},{"t":4.965,"v":-0.03},{"t":4.975,"v":-0.05},{"t":4.985,"v":-0.10},{"t":4.993,"v":-0.17},{"t":5.000,"v":-0.22}
    ]
  },
  "vconcat": [
    {
      "title": "Sinal Original",
      "width": 1022,
      "height": 168,
      "data": {"name": "orig"},
      "mark": {"type": "line", "color": "#1f77b4", "strokeWidth": 1.6, "clip": true},
      "encoding": {
        "x": {"field": "t", "type": "quantitative", "scale": {"domain": [0, 4.995], "nice": false, "zero": false}, "axis": {"title": "Tempo (s)", "values": [0, 1, 2, 3, 4], "format": "d", "labelFlush": false}},
        "y": {"field": "v", "type": "quantitative", "scale": {"domain": [-0.69, 0.99], "nice": false, "zero": false}, "axis": {"title": "Tensão (mV)", "values": [-0.5, -0.25, 0, 0.25, 0.5, 0.75], "format": ".2f", "titlePadding": 4}}
      }
    },
    {
      "title": "Sinal Filtrado",
      "width": 1023,
      "height": 168,
      "data": {"name": "filt"},
      "mark": {"type": "line", "color": "#1f77b4", "strokeWidth": 1.6, "clip": true},
      "encoding": {
        "x": {"field": "t", "type": "quantitative", "scale": {"domain": [0.003, 5], "nice": false, "zero": false}, "axis": {"title": "Tempo (s)", "values": [1, 2, 3, 4, 5], "format": "d", "labelFlush": false}},
        "y": {"field": "v", "type": "quantitative", "scale": {"domain": [-0.365, 1.245], "nice": false, "zero": false}, "axis": {"title": "Tensão (mV)", "values": [-0.25, 0, 0.25, 0.5, 0.75, 1], "format": ".2f", "titlePadding": 4}}
      }
    }
  ]
}
